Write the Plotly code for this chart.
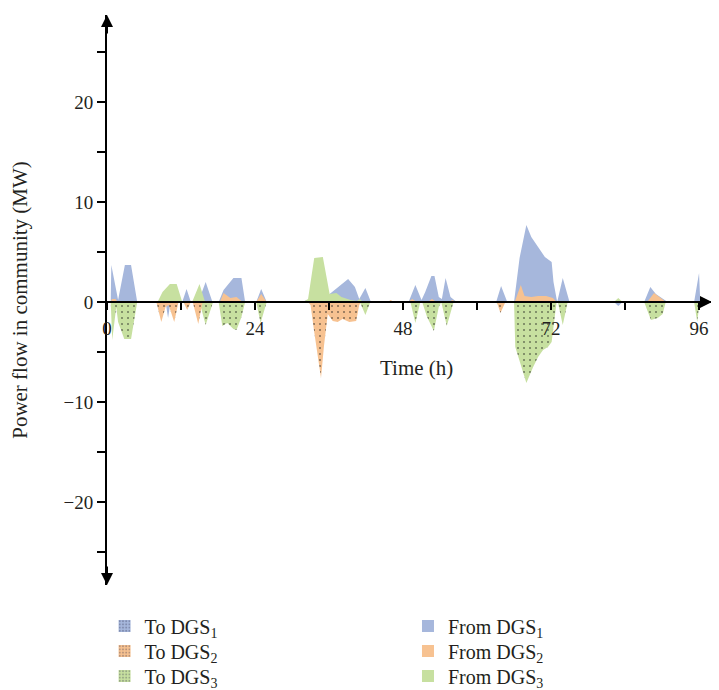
import plotly.graph_objects as go

# ---- data (hours, MW) ----
from1_t = [0.6, 0.7, 1.8, 2.9, 3.9, 4.9,
           12.2, 12.9, 13.6,
           14.8, 16.0, 17.1,
           18.1, 18.9, 20.5, 21.8, 22.4,
           24.2, 25.0, 25.9,
           31.5, 32.5, 35.5, 36.1, 37.2, 39.1, 40.2, 40.9, 41.9, 42.8,
           48.9, 50.0, 51.0, 51.6, 52.6, 53.1, 53.8, 54.3, 54.9, 55.7, 56.7,
           63.1, 63.9, 64.9,
           66.0, 66.9, 68.0, 68.8, 69.9, 71.0, 72.1, 72.4, 73.0, 73.9, 75.0,
           87.1, 88.1, 89.0, 90.9,
           95.2, 96.0, 96.2]
from1_v = [0, 3.7, 0.2, 3.7, 3.7, 0,
           0, 1.3, 0,
           0, 2.0, 0,
           0, 1.2, 2.4, 2.4, 0,
           0, 1.3, 0,
           0, 0.2, 0.5, 0.8, 1.3, 2.3, 1.5, 0.3, 1.4, 0,
           0, 1.7, 0.2, 1.0, 2.6, 2.6, 0.5, 0.3, 2.4, 0.5, 0,
           0, 1.6, 0,
           0, 4.4, 7.7, 6.5, 5.5, 4.5, 4.0, 2.0, 0, 2.4, 0,
           0, 1.5, 0.8, 0,
           0, 2.9, 0]

from2_t = [0.6, 0.8, 1.4, 1.7,
           18.3, 18.9, 20.0, 21.0, 22.0,
           24.2, 25.0, 25.9,
           45.5, 46.0, 46.5,
           48.8, 49.5, 50.2,
           52.0, 52.7, 53.4,
           55.5, 56.0, 56.6,
           66.1, 67.1, 67.7, 68.8, 69.9, 71.2, 72.3, 72.9,
           87.6, 88.7, 90.0, 90.6]
from2_v = [0, 0.3, 0.3, 0,
           0, 0.9, 0.4, 0.5, 0,
           0, 0.8, 0,
           0, 0.2, 0,
           0, 0.3, 0,
           0, 0.3, 0,
           0, 0.2, 0,
           0, 1.7, 0.6, 0.5, 0.6, 0.6, 0.4, 0,
           0, 0.9, 0.3, 0]

from3_t = [8.2, 9.0, 10.2, 11.3, 12.2,
           13.8, 15.0, 15.9,
           31.8, 32.6, 33.6, 35.0, 36.1, 37.2, 38.0, 39.5, 40.5, 41.0, 41.5,
           82.2, 82.9, 83.6]
from3_v = [0, 1.0, 1.8, 1.8, 0,
           0, 1.8, 0,
           0, 0.3, 4.4, 4.5, 0.8, 0.9, 0.5, 0.2, 0.1, 0.3, 0,
           0, 0.4, 0]

to1_t = [9.5, 9.9, 10.3,
         82.2, 82.9, 83.6]
to1_v = [0, -1.6, 0,
         0, -0.4, 0]

to2_t = [8.0, 8.8, 9.5, 10.0, 10.9, 11.6,
         12.4, 13.0, 13.6,
         13.9, 14.8, 15.5,
         32.6, 33.0, 33.6, 34.4, 34.7, 35.2, 35.8, 36.6, 37.4, 38.2, 39.3, 40.4, 40.9, 41.2,
         63.2, 63.8, 64.6]
to2_v = [0, -2.0, -0.5, -0.3, -2.0, 0,
         0, -0.8, 0,
         0, -2.2, 0,
         0, -0.3, -3.0, -6.6, -7.6, -4.3, -1.2, -1.9, -2.0, -1.7, -2.0, -1.9, -0.3, 0,
         0, -1.1, 0]

to3_t = [0.6, 0.85, 1.5, 1.8, 2.8, 3.9, 4.9,
         12.5, 13.0, 13.5,
         15.0, 16.0, 17.2,
         18.1, 18.7, 19.5, 20.5, 21.0, 21.8, 22.4,
         24.2, 24.9, 25.9,
         41.0, 41.9, 42.7,
         49.2, 50.0, 50.8, 51.1, 51.9, 53.0, 53.8, 54.2, 55.1, 56.2,
         63.0, 63.8, 64.6,
         66.0, 66.2, 67.2, 68.0, 69.1, 69.9, 70.7, 71.5, 72.1, 72.6, 72.9,
         73.1, 73.9, 74.7,
         87.1, 88.2, 89.3, 90.1, 90.6,
         95.2, 95.7, 96.1]
to3_v = [0, -3.8, -0.5, -2.0, -3.7, -3.7, 0,
         0, -0.5, 0,
         0, -2.3, 0,
         0, -2.4, -2.1, -2.7, -2.8, -1.5, 0,
         0, -2.1, 0,
         0, -1.3, 0,
         0, -2.1, 0, 0, -1.5, -2.9, -0.5, 0, -2.4, 0,
         0, -0.5, 0,
         0, -4.5, -6.5, -8.1, -6.5, -5.5, -4.8, -4.5, -4.0, -1.3, 0,
         0, -2.3, 0,
         0, -1.8, -1.6, -1.2, 0,
         0, -2.0, 0]

x_ticks = [0, 24, 48, 72, 96]
x_minor = [12, 36, 60, 84]
y_ticks = [-20, -10, 0, 10, 20]
y_minor = [-25, -15, -5, 5, 15, 25]

BLUE = "#a6b7dc"
ORANGE = "#f7c291"
GREEN = "#c7e0a0"
FONT = "Liberation Serif"
TXT = "#231f20"

X_MAX = 98.1
Y_MIN, Y_MAX = -28.3, 28.7

fig = go.Figure()

def area(t, v, color, dotted):
    kw = dict(x=t, y=v, mode="lines", fill="tozeroy",
              line=dict(width=0, color=color), fillcolor=color,
              showlegend=False, hoverinfo="skip")
    if dotted:
        kw["fillpattern"] = dict(shape=".", fgcolor="#1a1a1a", bgcolor=color,
                                 size=6, solidity=0.1)
    fig.add_trace(go.Scatter(**kw))

area(from1_t, from1_v, BLUE, False)
area(from3_t, from3_v, GREEN, False)
area(from2_t, from2_v, ORANGE, False)
area(to1_t, to1_v, BLUE, True)
area(to3_t, to3_v, GREEN, True)
area(to2_t, to2_v, ORANGE, True)

# legend entries (swatches), one small legend per entry
def key(name, color, dotted, legend):
    marker = dict(color=color, line=dict(width=0))
    if dotted:
        marker["pattern"] = dict(shape=".", fgcolor="rgba(40,40,70,0.6)",
                                 bgcolor=color, size=4, solidity=0.3)
    fig.add_trace(go.Bar(x=[None], y=[None], name=name, marker=marker,
                         legend=legend, hoverinfo="skip"))

key("To DGS<sub>1</sub>", BLUE, True, "legend")
key("From DGS<sub>1</sub>", BLUE, False, "legend2")
key("To DGS<sub>2</sub>", ORANGE, True, "legend3")
key("From DGS<sub>2</sub>", ORANGE, False, "legend4")
key("To DGS<sub>3</sub>", GREEN, True, "legend5")
key("From DGS<sub>3</sub>", GREEN, False, "legend6")

zero_pos = (0 - Y_MIN) / (Y_MAX - Y_MIN)

row_y = [-0.0719, -0.1158, -0.1597]
col_x = [-0.004, 0.4975]
legends = {}
names = ["legend", "legend2", "legend3", "legend4", "legend5", "legend6"]
for i, nm in enumerate(names):
    legends[nm] = dict(x=col_x[i % 2], xanchor="left", y=row_y[i // 2],
                       yanchor="middle", bgcolor="rgba(0,0,0,0)",
                       font=dict(size=20, color=TXT), borderwidth=0)

fig.update_layout(
    width=711, height=682,
    margin=dict(l=99, r=7, t=7, b=105, autoexpand=False),
    paper_bgcolor="white", plot_bgcolor="white",
    font=dict(family=FONT, size=19, color=TXT),
    xaxis=dict(range=[0, X_MAX], anchor="free", position=zero_pos,
               showline=True, linecolor="black", linewidth=2,
               ticks="outside", ticklen=7, tickwidth=2, tickcolor="black",
               tickvals=x_ticks, ticktext=[str(v) for v in x_ticks],
               ticklabelstandoff=2,
               minor=dict(tickvals=x_minor, ticks="outside", ticklen=7,
                          tickwidth=2, tickcolor="black"),
               showgrid=False, zeroline=False, tickfont=dict(size=19)),
    yaxis=dict(range=[Y_MIN, Y_MAX], domain=[0, 1],
               showline=True, linecolor="black", linewidth=2,
               ticks="outside", ticklen=8, tickwidth=2, tickcolor="black",
               tickvals=y_ticks,
               minor=dict(tickvals=y_minor, ticks="outside", ticklen=8,
                          tickwidth=2, tickcolor="black"),
               showgrid=False, zeroline=False, tickfont=dict(size=19),
               title=dict(text="Power flow in community (MW)",
                          font=dict(size=21), standoff=30)),
    showlegend=True,
    **legends,
)

# axis title for time and arrow heads
fig.add_annotation(text="Time (h)", x=0.512, y=0.381, xref="paper", yref="paper",
                   showarrow=False, font=dict(size=21))
fig.add_annotation(x=X_MAX, y=0, ax=X_MAX - 2, ay=0, xref="x", yref="y",
                   axref="x", ayref="y", text="", showarrow=True,
                   arrowhead=2, arrowsize=1.2, arrowwidth=2, arrowcolor="black")
fig.add_annotation(x=0, y=Y_MAX, ax=0, ay=Y_MAX - 2, xref="x", yref="y",
                   axref="x", ayref="y", text="", showarrow=True,
                   arrowhead=2, arrowsize=1.2, arrowwidth=2, arrowcolor="black")
fig.add_annotation(x=0, y=Y_MIN, ax=0, ay=Y_MIN + 2, xref="x", yref="y",
                   axref="x", ayref="y", text="", showarrow=True,
                   arrowhead=2, arrowsize=1.2, arrowwidth=2, arrowcolor="black")

fig.write_html("out.html")
